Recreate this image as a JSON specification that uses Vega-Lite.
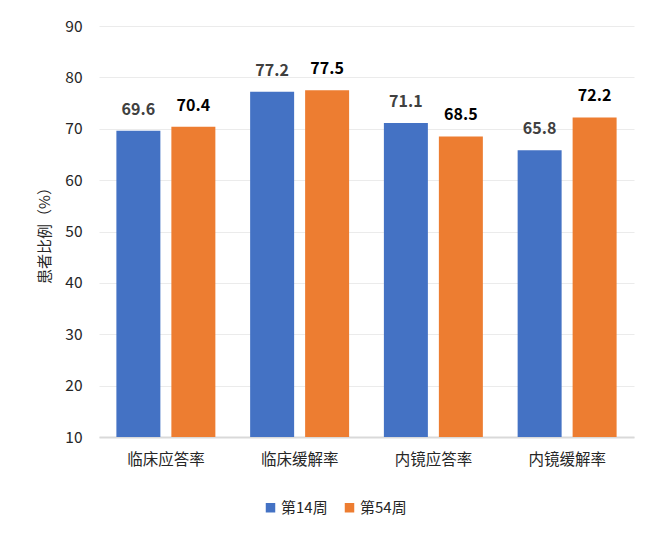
{
  "$schema": "https://vega.github.io/schema/vega-lite/v6.json",
  "width": 535,
  "height": 411,
  "autosize": {"type": "none"},
  "padding": {"left": 99, "top": 26, "right": 27, "bottom": 104},
  "background": "white",
  "config": {
    "font": "Noto Sans CJK SC",
    "view": {"stroke": null}
  },
  "data": {
    "values": [
      {"category": "临床应答率", "series": "第14周", "value": 69.6},
      {"category": "临床应答率", "series": "第54周", "value": 70.4},
      {"category": "临床缓解率", "series": "第14周", "value": 77.2},
      {"category": "临床缓解率", "series": "第54周", "value": 77.5},
      {"category": "内镜应答率", "series": "第14周", "value": 71.1},
      {"category": "内镜应答率", "series": "第54周", "value": 68.5},
      {"category": "内镜缓解率", "series": "第14周", "value": 65.8},
      {"category": "内镜缓解率", "series": "第54周", "value": 72.2}
    ]
  },
  "encoding": {
    "x": {
      "field": "category",
      "type": "nominal",
      "sort": null,
      "scale": {"paddingInner": 0.26, "paddingOuter": 0.13},
      "axis": {
        "title": null,
        "labelAngle": 0,
        "labelFontSize": 15.5,
        "labelColor": "#262626",
        "labelPadding": 15,
        "ticks": false,
        "domainColor": "#d9d9d9",
        "domainWidth": 2,
        "grid": false
      }
    },
    "xOffset": {
      "field": "series",
      "type": "nominal",
      "sort": ["第14周", "第54周"],
      "scale": {"paddingInner": 0.2, "paddingOuter": 0}
    },
    "y": {
      "field": "value",
      "type": "quantitative",
      "scale": {"domain": [10, 90], "zero": false, "nice": false},
      "axis": {
        "title": "患者比例（%）",
        "titleFontSize": 15,
        "titleFontWeight": "normal",
        "titleColor": "#262626",
        "titlePadding": 12,
        "values": [10, 20, 30, 40, 50, 60, 70, 80, 90],
        "labelFontSize": 15.5,
        "labelColor": "#262626",
        "labelPadding": 17,
        "ticks": false,
        "domain": false,
        "grid": true,
        "gridColor": "#ebebeb",
        "gridWidth": 1
      }
    }
  },
  "layer": [
    {
      "mark": {"type": "bar", "clip": true},
      "encoding": {
        "color": {
          "field": "series",
          "type": "nominal",
          "sort": ["第14周", "第54周"],
          "scale": {"domain": ["第14周", "第54周"], "range": ["#4472C4", "#ED7D31"]},
          "legend": {
            "title": null,
            "orient": "none",
            "legendX": 164,
            "legendY": 474,
            "direction": "horizontal",
            "symbolType": "square",
            "symbolSize": 90,
            "symbolStrokeWidth": 0,
            "labelFontSize": 15,
            "labelColor": "#262626",
            "columnPadding": 14,
            "labelOffset": 3
          }
        }
      }
    },
    {
      "mark": {"type": "text", "fontWeight": "bold", "fontSize": 16, "baseline": "alphabetic", "dy": -16},
      "encoding": {
        "text": {"field": "value", "type": "quantitative", "format": ".1f"},
        "color": {
          "condition": {"test": "datum.series === '第14周'", "value": "#404040"},
          "value": "#000000"
        }
      }
    }
  ]
}
